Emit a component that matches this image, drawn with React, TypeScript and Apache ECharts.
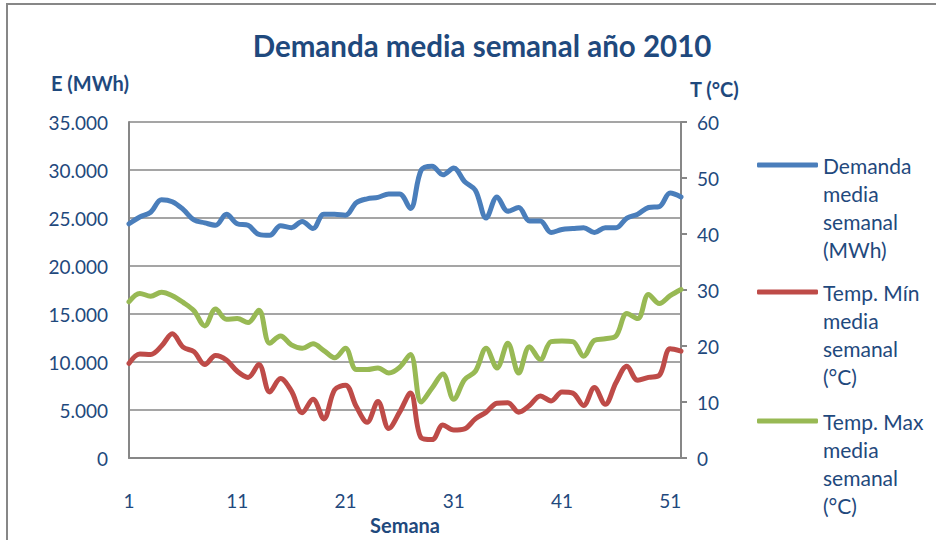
import React, { useEffect, useRef } from "react";
import * as echarts from "echarts";

const weeks: string[] = Array.from({ length: 52 }, (_, i) => String(i + 1));

const demanda: number[] = [
  24400, 25100, 25600, 26900, 26700, 25900, 24800, 24500, 24250, 25400,
  24400, 24250, 23300, 23200, 24200, 24000, 24650, 23900, 25400, 25400,
  25300, 26600, 27000, 27150, 27500, 27500, 26000, 30000, 30400, 29500,
  30200, 28800, 27900, 25000, 27200, 25700, 26100, 24700, 24700, 23500,
  23800, 23900, 24000, 23500, 24000, 24000, 25000, 25400, 26100, 26200,
  27600, 27200,
];

const tempMin: number[] = [
  16.9, 18.6, 18.5, 20.0, 22.2, 19.8, 19.0, 16.7, 18.3, 17.5,
  15.5, 14.4, 16.7, 11.8, 14.2, 12.0, 8.1, 10.5, 7.0, 12.2,
  13.0, 9.2, 6.4, 10.1, 5.3, 8.2, 11.6, 3.6, 3.3, 5.9,
  5.0, 5.2, 7.0, 8.2, 9.8, 9.9, 8.2, 9.4, 11.1, 10.2,
  11.8, 11.6, 9.4, 12.6, 9.6, 13.5, 16.4, 13.9, 14.4, 14.8,
  19.5, 19.1,
];

const tempMax: number[] = [
  27.9, 29.4, 28.9, 29.6, 29.0, 27.8, 26.3, 23.6, 26.6, 24.8,
  24.9, 24.2, 26.4, 20.5, 21.8, 20.2, 19.6, 20.4, 19.2, 17.9,
  19.6, 15.8, 15.8, 16.1, 15.2, 16.2, 18.5, 10.0, 12.5, 15.0,
  10.5, 14.0, 15.5, 19.6, 16.1, 20.5, 15.2, 19.9, 17.6, 20.8,
  20.9, 20.8, 18.2, 21.0, 21.3, 21.8, 25.8, 24.9, 29.2, 27.6,
  29.0, 30.1,
];

const seriesNames: string[] = [
  "Demanda media semanal (MWh)",
  "Temp. Mín media semanal (°C)",
  "Temp. Max media semanal (°C)",
];
const legendLabels: string[][] = [
  ["Demanda", "media", "semanal", "(MWh)"],
  ["Temp. Mín", "media", "semanal", "(°C)"],
  ["Temp. Max", "media", "semanal", "(°C)"],
];
const colors: string[] = ["#4A7EBB", "#BE4B48", "#98B954"];

const TEXT = "#1F497D";
const FONT = "Lato";
const GRAY = "#878787";

export default function App() {
  const ref = useRef<HTMLDivElement>(null);
  useEffect(() => {
    if (!ref.current) return;
    const chart = echarts.init(ref.current, null, { renderer: "svg" });
    const legendTops = [67, 194, 323];
    const legends = seriesNames.map((n, i) => ({
      data: [n],
      orient: "vertical",
      left: 757,
      top: legendTops[i],
      padding: 0,
      itemWidth: 61,
      itemHeight: 5,
      icon: "roundRect",
      selectedMode: false,
      // three empty leading lines keep the icon level with the first text line
      formatter: () => "\n\n\n" + legendLabels[i].join("\n"),
      textStyle: {
        color: TEXT,
        fontFamily: FONT,
        fontSize: 21,
        lineHeight: 28,
      },
    }));
    chart.setOption({
      animation: false,
      backgroundColor: "#ffffff",
      textStyle: { fontFamily: FONT },
      title: {
        text: "Demanda media semanal año 2010",
        left: 477,
        top: 25,
        textAlign: "center",
        textStyle: { color: TEXT, fontFamily: FONT, fontWeight: "bold", fontSize: 29.5 },
      },
      graphic: [
        {
          type: "rect",
          shape: { x: 7, y: 4, width: 1000, height: 600 },
          style: { fill: "none", stroke: GRAY, lineWidth: 2 },
          silent: true,
        },
      ],
      legend: legends,
      grid: { left: 129, right: 255, top: 122, bottom: 77, containLabel: false },
      xAxis: {
        type: "category",
        data: weeks,
        boundaryGap: false,
        name: "Semana",
        nameLocation: "middle",
        nameGap: 50,
        nameTextStyle: { color: TEXT, fontFamily: FONT, fontWeight: "bold", fontSize: 20 },
        axisLine: { show: true, lineStyle: { color: GRAY, width: 2 } },
        axisTick: { show: false },
        axisLabel: { interval: 9, color: TEXT, fontFamily: FONT, fontSize: 19, margin: 33 },
        splitLine: { show: false },
      },
      yAxis: [
        {
          type: "value",
          min: 0,
          max: 35000,
          interval: 5000,
          position: "left",
          name: "E (MWh)",
          nameLocation: "end",
          nameGap: 29,
          nameTextStyle: { color: TEXT, fontFamily: FONT, fontWeight: "bold", fontSize: 20, align: "right" },
          axisLine: { show: true, lineStyle: { color: GRAY, width: 2 } },
          axisTick: { show: false },
          axisLabel: {
            color: TEXT,
            fontFamily: FONT,
            fontSize: 19,
            margin: 21,
            formatter: (v: number) => (v === 0 ? "0" : (v / 1000).toFixed(3)),
          },
          splitLine: { show: true, lineStyle: { color: GRAY, width: 1.5 } },
        },
        {
          type: "value",
          min: 0,
          max: 60,
          interval: 10,
          position: "right",
          name: "T (°C)",
          nameLocation: "end",
          nameGap: 23,
          nameTextStyle: {
            color: TEXT,
            fontFamily: FONT,
            fontWeight: "bold",
            fontSize: 20,
            align: "left",
            padding: [0, 0, 0, 9],
          },
          axisLine: { show: true, lineStyle: { color: GRAY, width: 2 } },
          axisTick: { show: true, inside: false, length: 6, lineStyle: { color: GRAY, width: 2 } },
          axisLabel: { color: TEXT, fontFamily: FONT, fontSize: 19, margin: 16 },
          splitLine: { show: false },
        },
      ],
      series: [
        { name: seriesNames[0], data: demanda, yAxisIndex: 0 },
        { name: seriesNames[1], data: tempMin, yAxisIndex: 1 },
        { name: seriesNames[2], data: tempMax, yAxisIndex: 1 },
      ].map((s, i) => ({
        ...s,
        type: "line",
        smooth: 0.35,
        showSymbol: false,
        symbol: "none",
        color: colors[i],
        lineStyle: { color: colors[i], width: 5, cap: "round", join: "round" },
        z: 3 - i,
      })),
    });
    return () => chart.dispose();
  }, []);
  return (
    <div
      ref={ref}
      style={{ position: "fixed", left: 0, top: 0, width: 936, height: 540, background: "#fff" }}
    />
  );
}
